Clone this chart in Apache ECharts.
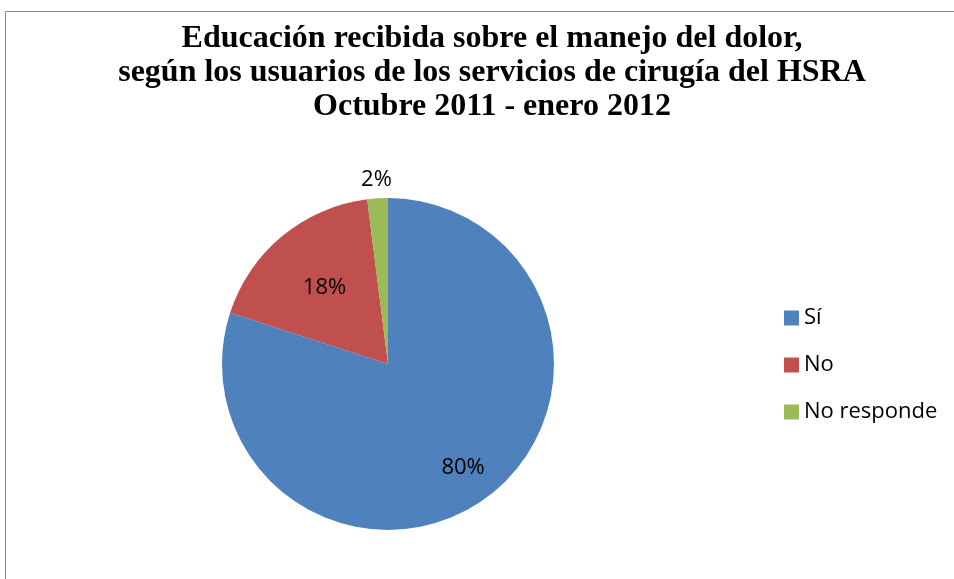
<!DOCTYPE html>
<html>
<head>
<meta charset="utf-8">
<script src="https://cdn.jsdelivr.net/npm/echarts@6/dist/echarts.min.js"></script>
<style>
    html, body { margin: 0; padding: 0; background: #fff; }
    #chart { width: 954px; height: 579px; }
</style>
</head>
<body>
<div id="chart"></div>
<script>
    // datos del gráfico
    const categorias = ['Sí', 'No', 'No responde'];
    const porcentajes = [80, 18, 2];
    const colores = ['#4F81BD', '#C0504D', '#9BBB59'];
    // distancia de cada etiqueta al centro, como fracción del radio
    const posEtiqueta = [0.77, 0.6, 1.11];

    const centro = [388, 364];
    const radio = 166;

    const total = porcentajes.reduce((a, b) => a + b, 0);
    // ángulo medio de cada porción (empieza a las 12, sentido horario)
    const angMedio = [];
    let acum = 0;
    porcentajes.forEach((v) => {
        const a = 90 - (acum + v / 2) / total * 360;
        angMedio.push(a * Math.PI / 180);
        acum += v;
    });

    const chart = echarts.init(document.getElementById('chart'));
    chart.setOption({
        animation: false,
        title: {
            text: 'Educación recibida sobre el manejo del dolor,\nsegún los usuarios de los servicios de cirugía del HSRA\nOctubre 2011 - enero 2012',
            left: 487,
            top: 17,
            textAlign: 'center',
            textStyle: {
                fontFamily: 'Liberation Serif',
                fontWeight: 'bold',
                fontSize: 32,
                lineHeight: 34,
                color: '#000'
            }
        },
        legend: {
            orient: 'vertical',
            left: 779,
            top: 302,
            itemWidth: 15,
            itemHeight: 15,
            itemGap: 25,
            icon: 'rect',
            data: categorias,
            textStyle: {
                fontFamily: 'Open Sans',
                fontSize: 22,
                lineHeight: 22,
                color: '#000'
            }
        },
        graphic: [{
            type: 'rect',
            shape: {x: 5.5, y: 11.5, width: 1000, height: 600},
            style: {fill: 'none', stroke: '#868686', lineWidth: 1},
            silent: true
        }],
        series: [{
            type: 'pie',
            center: centro,
            radius: radio,
            startAngle: 90,
            clockwise: true,
            avoidLabelOverlap: false,
            data: categorias.map((c, i) => ({
                name: c,
                value: porcentajes[i],
                itemStyle: {color: colores[i]}
            })),
            itemStyle: {borderColor: '#fff', borderWidth: 0},
            label: {
                show: true,
                position: 'inside',
                formatter: '{c}%',
                fontFamily: 'Open Sans',
                fontSize: 22,
                color: '#000'
            },
            labelLine: {show: false},
            labelLayout: (p) => {
                const i = p.dataIndex;
                const d = posEtiqueta[i] * radio;
                return {
                    x: centro[0] + d * Math.cos(angMedio[i]),
                    y: centro[1] - d * Math.sin(angMedio[i]),
                    align: 'center',
                    verticalAlign: 'middle'
                };
            },
            emphasis: {disabled: true}
        }]
    });
</script>
</body>
</html>
